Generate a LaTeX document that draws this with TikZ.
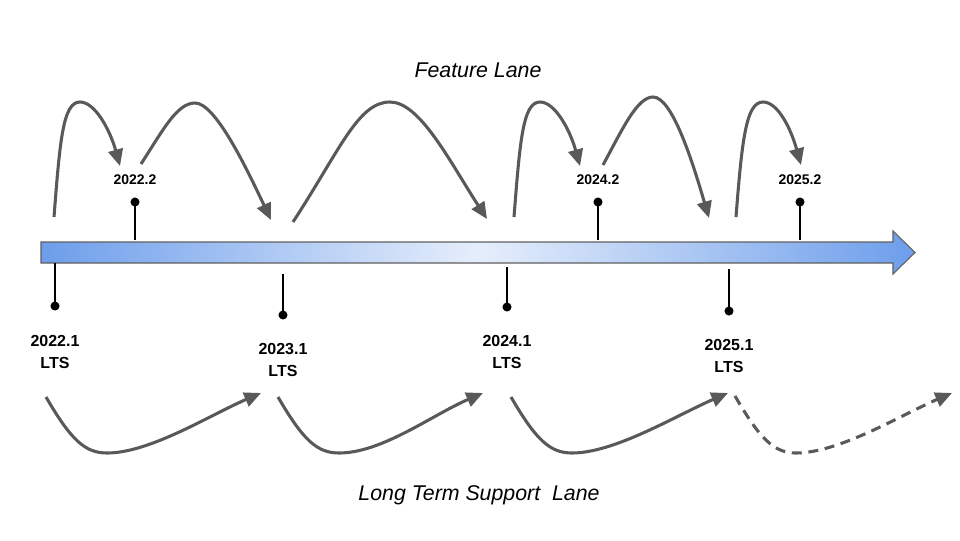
\documentclass[tikz,border=0pt]{standalone}
\usepackage{fontspec}
\setmainfont{Liberation Sans}
\usetikzlibrary{arrows.meta}

\definecolor{hopgray}{HTML}{595959}
\definecolor{barblue}{HTML}{6D9EEB}
\definecolor{barpale}{HTML}{E6EEFB}
\definecolor{baredge}{HTML}{5F5F5F}

\begin{document}
\begin{tikzpicture}[x=0.75pt, y=-0.75pt,
  hop/.style={-{Triangle[length=12.5pt, width=11pt]}, line width=2.3pt, draw=hopgray},
  pin/.style={circle, fill=black, inner sep=0pt, minimum size=6.8pt},
  stem/.style={draw=black, line width=0.9pt},
  featlbl/.style={font=\bfseries\fontsize{10.5}{12}\selectfont},
  ltslbl/.style={font=\bfseries\fontsize{12}{16.5}\selectfont, align=center},
  lanelbl/.style={font=\itshape\fontsize{16}{19}\selectfont}
]
  \useasboundingbox (0,0) rectangle (960,540);

  % 1. Timeline bar
  \shadedraw[draw=baredge, line width=0.8pt, left color=barblue, right color=barblue, middle color=barpale]
    (41,242) -- (893,242) -- (893,231) -- (915,252.5) -- (893,274) -- (893,263) -- (41,263) -- cycle;

  % 2. Lane titles
  \node[lanelbl] (feat) at (478,70) {Feature Lane};
  \node[lanelbl] (ltslane) at (479,495) {Long Term Support~~Lane};

  % 3. Feature releases (above the bar)
  \node[featlbl] (v222) at (135,180) {2022.2};
  \node[pin] (p222) at (135,202) {};
  \coordinate (b222) at (135,240);
  \draw[stem] (p222.center) -- (b222);

  \node[featlbl] (v242) at (598,180) {2024.2};
  \node[pin] (p242) at (598,202) {};
  \coordinate (b242) at (598,240);
  \draw[stem] (p242.center) -- (b242);

  \node[featlbl] (v252) at (800,180) {2025.2};
  \node[pin] (p252) at (800,202) {};
  \coordinate (b252) at (800,240);
  \draw[stem] (p252.center) -- (b252);

  % 4. LTS releases (below the bar)
  \coordinate (b221) at (55,263);
  \node[pin] (p221) at (55,306) {};
  \node[ltslbl] (v221) at (55,352) {2022.1\\LTS};
  \draw[stem] (b221) -- (p221.center);

  \coordinate (b231) at (283,274);
  \node[pin] (p231) at (283,315) {};
  \node[ltslbl] (v231) at (283,360) {2023.1\\LTS};
  \draw[stem] (b231) -- (p231.center);

  \coordinate (b241) at (507,267);
  \node[pin] (p241) at (507,307) {};
  \node[ltslbl] (v241) at (507,352) {2024.1\\LTS};
  \draw[stem] (b241) -- (p241.center);

  \coordinate (b251) at (729,269);
  \node[pin] (p251) at (729,311) {};
  \node[ltslbl] (v251) at (729,356) {2025.1\\LTS};
  \draw[stem] (b251) -- (p251.center);

  % 5. Feature lane hops (start, top, arrow end)
  \coordinate (f1a) at (54,217);  \coordinate (f1t) at (80,102);  \coordinate (f1b) at (120,166);
  \coordinate (f2a) at (141,164); \coordinate (f2t) at (195,103); \coordinate (f2b) at (271,220);
  \coordinate (f3a) at (293,222); \coordinate (f3t) at (390,102); \coordinate (f3b) at (487,219);
  \coordinate (f4a) at (514,217); \coordinate (f4t) at (540,102); \coordinate (f4b) at (580,166);
  \coordinate (f5a) at (603,165); \coordinate (f5t) at (653,97);  \coordinate (f5b) at (709,218);
  \coordinate (f6a) at (736,217); \coordinate (f6t) at (763,102); \coordinate (f6b) at (801,165);
  \draw[hop] (f1a) .. controls +(6,-77) and +(-17,0) .. (f1t) .. controls +(15,0) and +(-10,-36) .. (f1b);
  \draw[hop] (f2a) .. controls +(22,-34) and +(-18,0) .. (f2t) .. controls +(20,0) and +(-26,-55) .. (f2b);
  \draw[hop] (f3a) .. controls +(47,-72) and +(-32,0) .. (f3t) .. controls +(30,0) and +(-37,-57) .. (f3b);
  \draw[hop] (f4a) .. controls +(6,-77) and +(-17,0) .. (f4t) .. controls +(15,0) and +(-10,-36) .. (f4b);
  \draw[hop] (f5a) .. controls +(19,-35) and +(-16,0) .. (f5t) .. controls +(19,0) and +(-17,-58) .. (f5b);
  \draw[hop] (f6a) .. controls +(6,-77) and +(-17,0) .. (f6t) .. controls +(15,0) and +(-10,-36) .. (f6b);

  % 6. LTS lane hops (start, bottom, arrow end)
  \coordinate (l1a) at (46,397);  \coordinate (l1t) at (107,453); \coordinate (l1b) at (261,393);
  \coordinate (l2a) at (278,397); \coordinate (l2t) at (339,453); \coordinate (l2b) at (483,393);
  \coordinate (l3a) at (511,397); \coordinate (l3t) at (572,453); \coordinate (l3b) at (728,393);
  \coordinate (l4a) at (735,396); \coordinate (l4t) at (796,453); \coordinate (l4b) at (952,393);
  \draw[hop] (l1a) .. controls +(25,43) and +(-22,0) .. (l1t) .. controls +(43,0) and +(-51,22) .. (l1b);
  \draw[hop] (l2a) .. controls +(25,43) and +(-22,0) .. (l2t) .. controls +(43,0) and +(-51,22) .. (l2b);
  \draw[hop] (l3a) .. controls +(25,43) and +(-22,0) .. (l3t) .. controls +(43,0) and +(-51,22) .. (l3b);
  \draw[hop, dash pattern=on 7.5pt off 5pt] (l4a) .. controls +(25,43) and +(-22,0) .. (l4t) .. controls +(43,0) and +(-51,22) .. (l4b);

\end{tikzpicture}
\end{document}
